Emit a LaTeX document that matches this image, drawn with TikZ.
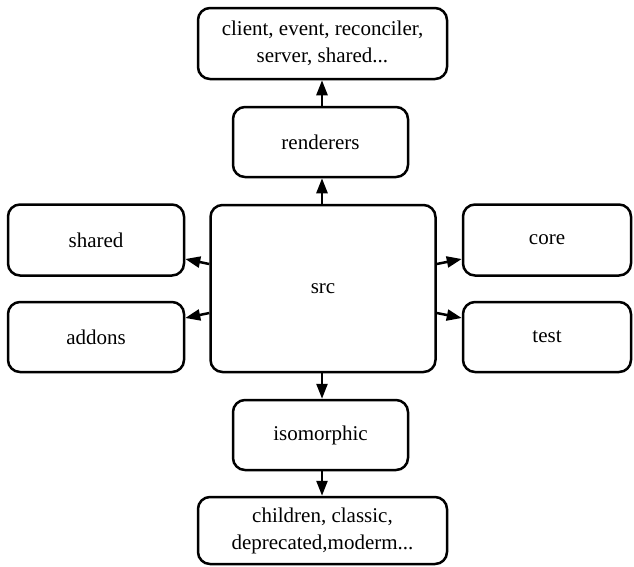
\documentclass[tikz,border=0pt]{standalone}
\usepackage{fontspec}
\setmainfont{Liberation Serif}
\newfontfamily\tnr{Liberation Serif}
\usetikzlibrary{arrows.meta}
\begin{document}
\begin{tikzpicture}[x=1pt,y=-1pt,
  box/.style={draw,line width=2.5pt,rounded corners=12pt,align=center,
    font=\tnr\fontsize{21}{27}\selectfont,inner sep=0pt},
  arr/.style={line width=2.5pt,-{Triangle[length=15pt,width=11pt]}}]
\useasboundingbox (0,0) rectangle (634,566);
\fill[white] (0,0) rectangle (634,566);
\node[box,minimum width=249pt,minimum height=71pt] (top) at (322.5,43.5) {client, event, reconciler,\\server, shared...};
\node[box,minimum width=175pt,minimum height=70pt] (ren) at (320.5,142) {renderers};
\node[box,minimum width=225pt,minimum height=167pt] (src) at (323,288.5) {src};
\node[box,minimum width=175pt,minimum height=70pt] (iso) at (320.5,435) {isomorphic};
\node[box,minimum width=249pt,minimum height=67pt] (bot) at (322.5,530.5) {children, classic,\\deprecated,moderm...};
\node[box,minimum width=176pt,minimum height=71pt] (shared) at (96,240) {shared};
\node[box,minimum width=176pt,minimum height=70pt] (addons) at (96,337) {addons};
\node[box,minimum width=168pt,minimum height=71pt] (core) at (547,240) {core};
\node[box,minimum width=168pt,minimum height=70pt] (test) at (547,337) {test};
\draw[arr] (src.north -| 322,0) -- (ren.south -| 322,0);
\draw[arr] (ren.north -| 322,0) -- (top.south -| 322,0);
\draw[arr] (src.south -| 322,0) -- (iso.north -| 322,0);
\draw[arr] (iso.south -| 322,0) -- (bot.north -| 322,0);
\draw[arr] ([yshift=24.5pt]src.west) -- ([yshift=-19pt]shared.east);
\draw[arr] ([yshift=-24.5pt]src.west) -- ([yshift=19pt]addons.east);
\draw[arr] ([yshift=24.5pt]src.east) -- ([yshift=-19pt]core.west);
\draw[arr] ([yshift=-24.5pt]src.east) -- ([yshift=19pt]test.west);
\end{tikzpicture}
\end{document}
